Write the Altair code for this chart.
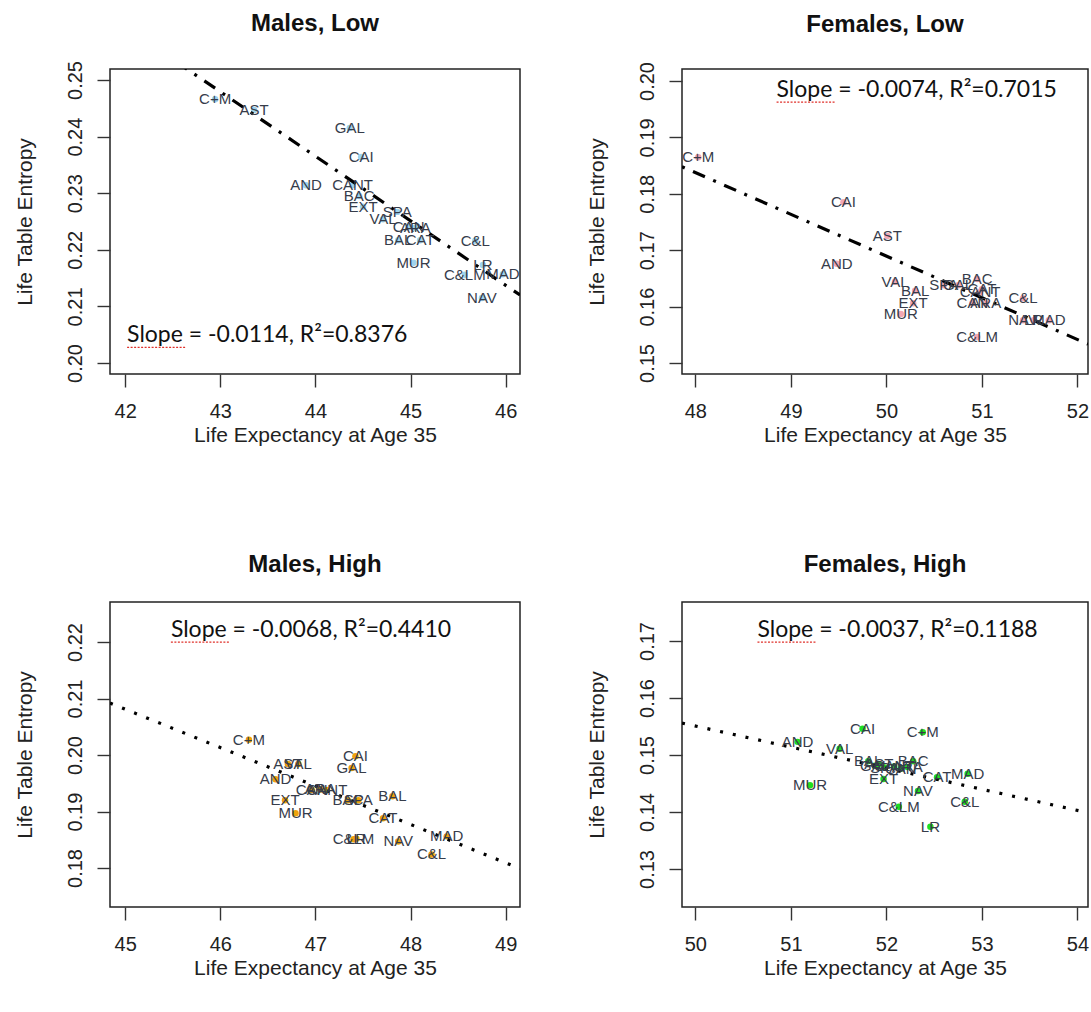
import altair as alt
import pandas as pd

# Region codes (same order in every panel)
regions = ["AND", "ARA", "AST", "BAL", "CAN", "CANT", "C&L", "C&LM", "CAT", "VAL",
           "EXT", "GAL", "MAD", "MUR", "NAV", "BAC", "LR", "CAI", "C+M", "SPA"]

# Males, low education
ml_e35 = [43.90, 45.05, 43.355, 44.87, 44.98, 44.39, 45.68, 45.57, 45.10, 44.71,
          44.50, 44.36, 45.97, 45.03, 45.75, 44.46, 45.76, 44.48, 42.945, 44.86]
ml_h = [0.2314, 0.2239, 0.2447, 0.2217, 0.2241, 0.2314, 0.2216, 0.2156, 0.2217, 0.2254,
        0.2276, 0.2415, 0.2157, 0.2177, 0.2115, 0.2295, 0.2173, 0.2364, 0.2466, 0.2267]

# Females, low education
fl_e35 = [49.48, 51.04, 50.01, 50.30, 50.90, 50.98, 51.43, 50.95, 51.00, 50.09,
          50.28, 50.75, 51.70, 50.15, 51.43, 50.95, 51.54, 49.55, 48.03, 50.60]
fl_h = [0.1676, 0.1606, 0.1725, 0.1628, 0.1606, 0.1626, 0.1615, 0.1546, 0.1631, 0.1644,
        0.1606, 0.1638, 0.1576, 0.1587, 0.1576, 0.1649, 0.1576, 0.1785, 0.1865, 0.1638]

# Males, high education
mh_e35 = [46.58, 47.05, 46.71, 47.81, 46.96, 47.12, 48.22, 47.40, 47.71, 46.82,
          46.68, 47.38, 48.38, 46.79, 47.87, 47.34, 47.43, 47.42, 46.30, 47.45]
mh_h = [0.1957, 0.1939, 0.1984, 0.1927, 0.1938, 0.1938, 0.1824, 0.1851, 0.1888, 0.1984,
        0.1920, 0.1977, 0.1856, 0.1897, 0.1847, 0.1920, 0.1852, 0.1998, 0.2027, 0.1920]

# Females, high education
fh_e35 = [51.07, 52.22, 51.92, 51.81, 52.15, 52.08, 52.82, 52.13, 52.53, 51.51,
          51.97, 51.88, 52.85, 51.20, 52.33, 52.28, 52.46, 51.75, 52.38, 51.98]
fh_h = [0.1523, 0.1479, 0.1484, 0.1489, 0.1476, 0.1480, 0.1418, 0.1409, 0.1461, 0.1511,
        0.1458, 0.1481, 0.1467, 0.1447, 0.1437, 0.1489, 0.1374, 0.1546, 0.1540, 0.1478]

# Fitted lines: slope, intercept, R^2
slopes = [-0.0114, -0.0074, -0.0068, -0.0037]
intercepts = [0.73812, 0.53896, 0.51411, 0.34008]
r2 = ["0.8376", "0.7015", "0.4410", "0.1188"]

titles = ["Males, Low", "Females, Low", "Males, High", "Females, High"]
x_domains = [[41.84, 46.15], [47.86, 52.11], [44.84, 49.15], [49.86, 54.11]]
y_domains = [[0.19806, 0.25194], [0.14805, 0.20213], [0.1731, 0.22708], [0.12333, 0.17684]]
x_ticks = [[42, 43, 44, 45, 46], [48, 49, 50, 51, 52], [45, 46, 47, 48, 49], [50, 51, 52, 53, 54]]
y_ticks = [[0.20, 0.21, 0.22, 0.23, 0.24, 0.25], [0.15, 0.16, 0.17, 0.18, 0.19, 0.20],
           [0.18, 0.19, 0.20, 0.21, 0.22], [0.13, 0.14, 0.15, 0.16, 0.17]]
# where each slope/R^2 note starts (data coordinates)
note_at = [(42.02, 0.2049), (48.85, 0.1984), (45.48, 0.2221), (50.65, 0.1719)]
# length of the wavy underline below "Slope", in x units
squiggle_len = 0.61

point_colors = ["#9fd3ee", "#f2a7b4", "#f0a30a", "#1fe01f"]
dashes = [[3, 9, 13, 9], [3, 9, 13, 9], [3, 10], [3, 10]]
widths = [410, 406, 410, 406]
heights = [305, 305, 305, 305]

FONT = "Liberation Sans"


def panel(i, xs, ys):
    df = pd.DataFrame({"e35": xs, "H": ys, "region": regions})
    x_enc = alt.X(
        "e35:Q",
        scale=alt.Scale(domain=x_domains[i], nice=False, zero=False),
        axis=alt.Axis(title="Life Expectancy at Age 35", values=x_ticks[i], format="d"),
    )
    y_enc = alt.Y(
        "H:Q",
        scale=alt.Scale(domain=y_domains[i], nice=False, zero=False),
        axis=alt.Axis(title="Life Table Entropy", values=y_ticks[i], format=".2f",
                      labelAngle=270, labelAlign="center", labelBaseline="bottom"),
    )
    base = alt.Chart(df)
    pts = base.mark_circle(size=42, opacity=1, color=point_colors[i]).encode(x=x_enc, y=y_enc)
    lab = base.mark_text(font=FONT, fontSize=15, color="#363c4a").encode(
        x=x_enc, y=y_enc, text="region:N")

    x0, x1 = x_domains[i]
    fit = pd.DataFrame({"e35": [x0, x1],
                        "H": [intercepts[i] + slopes[i] * x0, intercepts[i] + slopes[i] * x1]})
    line = alt.Chart(fit).mark_line(
        clip=True, color="black", strokeWidth=3.2, strokeDash=dashes[i], strokeCap="butt"
    ).encode(x=x_enc, y=y_enc)

    nx, ny = note_at[i]
    note_df = pd.DataFrame({"e35": [nx], "e35b": [nx + squiggle_len], "H": [ny],
                            "t": [f"Slope = {slopes[i]:.4f}, R\u00b2={r2[i]}"]})
    note = alt.Chart(note_df).mark_text(
        align="left", baseline="middle", font="Lato", fontSize=23, color="#111"
    ).encode(x=x_enc, y=y_enc, text="t:N")
    squiggle = alt.Chart(note_df).mark_rule(
        color="#e0302a", strokeWidth=1.3, strokeDash=[2, 1.5], yOffset=12
    ).encode(x=x_enc, x2="e35b:Q", y=y_enc)

    return alt.layer(pts, line, lab, squiggle, note).properties(
        width=widths[i], height=heights[i],
        title=alt.TitleParams(titles[i], anchor="middle", font=FONT, fontSize=24,
                              fontWeight="bold", color="#111", offset=25),
    )


panels = [
    panel(0, ml_e35, ml_h),
    panel(1, fl_e35, fl_h),
    panel(2, mh_e35, mh_h),
    panel(3, fh_e35, fh_h),
]

chart = alt.concat(
    *panels, columns=2, bounds="flush",
    spacing=alt.RowColnumber(row=228, column=162),
).properties(
    padding={"left": 13, "top": 10, "right": 0, "bottom": 0},
).configure_view(
    stroke="#222", strokeWidth=1.5,
).configure_axis(
    domain=False, grid=False, tickSize=13, tickWidth=1.4, tickColor="#333",
    labelFont=FONT, labelFontSize=20, labelColor="#222",
    titleFont=FONT, titleFontSize=21, titleFontWeight="normal", titleColor="#222",
).configure_axisX(
    labelPadding=14, titlePadding=3,
).configure_axisY(
    labelPadding=12, titlePadding=30,
)

chart.save("out.html", embed_options={"renderer": "svg", "actions": False})
